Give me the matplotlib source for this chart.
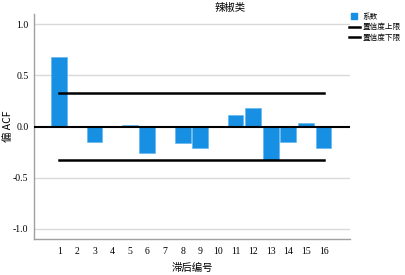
import matplotlib
matplotlib.use('Agg')
import matplotlib.pyplot as plt
from matplotlib.lines import Line2D
import numpy as np

plt.rcParams['font.family'] = ['Noto Sans CJK SC', 'DejaVu Sans']

# partial ACF values
lags = np.arange(1, 17)
pacf = [0.68, 0.0, -0.153, 0.0, 0.016, -0.257, 0.0, -0.163, -0.208, 0.0,
        0.117, 0.183, -0.323, -0.153, 0.039, -0.212]
upper_limit = 0.33
lower_limit = -0.33

title = "辣椒类"
x_label = "滞后编号"
y_label = "偏 ACF"
legend_labels = ["系数", "置信度上限", "置信度下限"]

bar_color = "#1790e3"

fig = plt.figure(figsize=(4.05, 2.75), dpi=100)
ax = fig.add_axes([34 / 405, 1 - 239 / 275, 316 / 405, 225 / 275])

for y in [-1.0, -0.5, 0.5, 1.0]:
    ax.axhline(y, color="#d9d9d9", lw=1.0, zorder=0)

ax.bar(lags, pacf, width=0.9, color=bar_color, edgecolor="#5ab0ef", linewidth=0.4, zorder=2)
ax.axhline(0, color="black", lw=1.5, zorder=3)
ax.plot([lags[0], lags[-1]], [upper_limit, upper_limit], color="black", lw=1.8, zorder=3)
ax.plot([lags[0], lags[-1]], [lower_limit, lower_limit], color="black", lw=1.8, zorder=3)

ax.set_xlim(-0.43, 17.5)
ax.set_ylim(-1.1, 1.1)
ax.set_xticks(lags)
ax.set_xticklabels([str(i) for i in lags], family="Liberation Serif", fontsize=7)
ax.set_yticks([-1.0, -0.5, 0.0, 0.5, 1.0])
ax.set_yticklabels(["-1.0", "-0.5", "0.0", "0.5", "1.0"], family="Liberation Serif", fontsize=7)
ax.tick_params(length=0, pad=4)
ax.tick_params(axis="x", pad=6)

for s in ["top", "right"]:
    ax.spines[s].set_visible(False)
for s in ["left", "bottom"]:
    ax.spines[s].set_color("#a0a0a0")
    ax.spines[s].set_linewidth(1.0)

ax.set_xlabel(x_label, fontsize=7.5)
ax.xaxis.set_label_coords(0.5, -(263 - 239) / 225)
ax.set_ylabel(y_label, fontsize=7.5)
ax.yaxis.set_label_coords(-(34 - 13) / 316, 0.5)

fig.text(230 / 405, 1 - 8 / 275, title, ha="center", va="center", fontsize=7.5)

handles = [Line2D([0], [0], ls="none", marker="s", markersize=5, color=bar_color),
           Line2D([0], [0], color="black", lw=1.8),
           Line2D([0], [0], color="black", lw=1.8)]
fig.legend(handles, legend_labels, loc="upper left", bbox_to_anchor=(349 / 405, 1 - 13 / 275),
           frameon=False, fontsize=5.5, handlelength=1.4, handleheight=0.8,
           handletextpad=0.4, labelspacing=0.3, borderaxespad=0, borderpad=0)

fig.savefig("out.png", dpi=100)
